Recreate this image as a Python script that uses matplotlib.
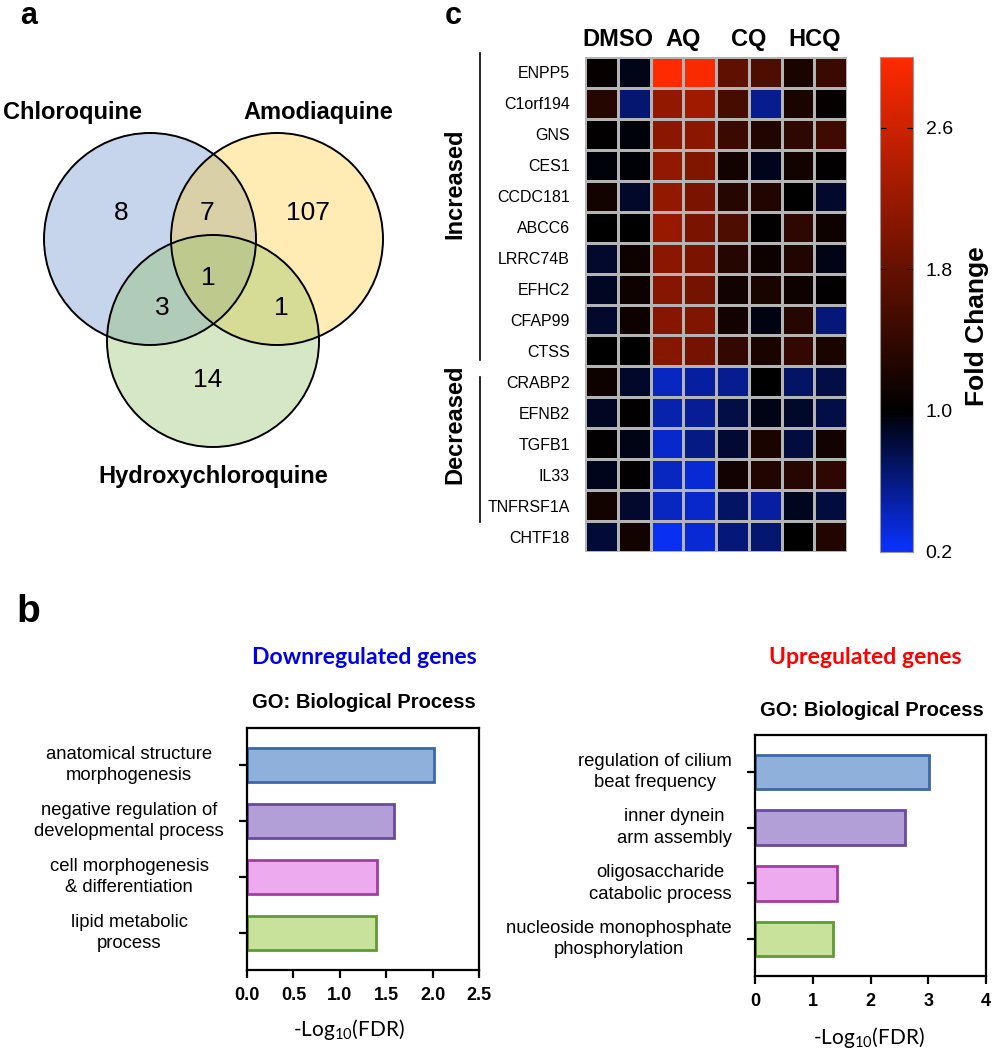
import numpy as np
import matplotlib
matplotlib.use("Agg")
import matplotlib.pyplot as plt
from matplotlib.patches import Circle
from matplotlib.colors import LinearSegmentedColormap, Normalize
from matplotlib.lines import Line2D

plt.rcParams['font.family'] = ['Liberation Sans', 'DejaVu Sans']
plt.rcParams['mathtext.default'] = 'regular'

# ---------------- data ----------------
venn_sets = ['Chloroquine', 'Amodiaquine', 'Hydroxychloroquine']
venn_regions = ['C', 'CA', 'A', 'CAH', 'CH', 'AH', 'H']
venn_counts = [8, 7, 107, 1, 3, 1, 14]

groups = ['DMSO', 'AQ', 'CQ', 'HCQ']
genes_up = ['ENPP5', 'C1orf194', 'GNS', 'CES1', 'CCDC181', 'ABCC6',
            'LRRC74B', 'EFHC2', 'CFAP99', 'CTSS']
genes_down = ['CRABP2', 'EFNB2', 'TGFB1', 'IL33', 'TNFRSF1A', 'CHTF18']
genes = genes_up + genes_down

fc_ENPP5    = [1.05, 0.93, 3.00, 2.95, 1.75, 1.60, 1.20, 1.45]
fc_C1orf194 = [1.30, 0.65, 2.15, 2.25, 1.55, 0.56, 1.20, 1.05]
fc_GNS      = [1.02, 0.97, 2.10, 2.10, 1.45, 1.25, 1.35, 1.50]
fc_CES1     = [0.97, 0.98, 2.15, 2.00, 1.15, 0.92, 1.15, 1.02]
fc_CCDC181  = [1.15, 0.87, 2.15, 1.95, 1.30, 1.25, 1.00, 0.86]
fc_ABCC6    = [1.00, 1.00, 2.20, 1.95, 1.60, 1.02, 1.35, 1.10]
fc_LRRC74B  = [0.86, 1.10, 2.10, 1.95, 1.30, 1.10, 1.25, 0.94]
fc_EFHC2    = [0.89, 1.10, 2.05, 1.90, 1.15, 1.20, 1.10, 1.02]
fc_CFAP99   = [0.86, 1.10, 2.05, 2.00, 1.15, 0.95, 1.30, 0.62]
fc_CTSS     = [1.00, 1.00, 2.05, 1.90, 1.40, 1.20, 1.40, 1.20]
fc_CRABP2   = [1.10, 0.87, 0.40, 0.50, 0.56, 1.00, 0.69, 0.78]
fc_EFNB2    = [0.89, 1.02, 0.47, 0.53, 0.78, 0.94, 0.87, 0.78]
fc_TGFB1    = [1.02, 0.94, 0.37, 0.59, 0.84, 1.20, 0.81, 1.15]
fc_IL33     = [0.92, 1.02, 0.40, 0.34, 1.15, 1.25, 1.30, 1.35]
fc_TNFRSF1A = [1.15, 0.86, 0.40, 0.37, 0.69, 0.50, 0.90, 0.81]
fc_CHTF18   = [0.83, 1.15, 0.25, 0.34, 0.62, 0.65, 1.00, 1.25]
fold_change = np.array([fc_ENPP5, fc_C1orf194, fc_GNS, fc_CES1, fc_CCDC181,
                        fc_ABCC6, fc_LRRC74B, fc_EFHC2, fc_CFAP99, fc_CTSS,
                        fc_CRABP2, fc_EFNB2, fc_TGFB1, fc_IL33, fc_TNFRSF1A,
                        fc_CHTF18])
cbar_ticks = [0.2, 1.0, 1.8, 2.6]

down_terms = ['anatomical structure\nmorphogenesis',
              'negative regulation of\ndevelopmental process',
              'cell morphogenesis\n& differentiation',
              'lipid metabolic\nprocess']
down_values = [2.01, 1.58, 1.40, 1.39]
down_ticks = [0.0, 0.5, 1.0, 1.5, 2.0, 2.5]

up_terms = ['regulation of cilium\nbeat frequency',
            'inner dynein\narm assembly',
            'oligosaccharide\ncatabolic process',
            'nucleoside monophosphate\nphosphorylation']
up_values = [3.01, 2.60, 1.42, 1.35]
up_ticks = [0, 1, 2, 3, 4]

bar_fill = ['#8fb0da', '#b39fd8', '#eeaaee', '#c8e19b']
bar_edge = ['#3b68a6', '#6a4a9e', '#a23ea2', '#5f9a35']

# ---------------- figure ----------------
W, H = 996, 1050
fig = plt.figure(figsize=(W / 100, H / 100), dpi=100)


def box(x0, y0, w, h):
    return [x0 / W, 1 - (y0 + h) / H, w / W, h / H]


def fx(x):
    return x / W


def fy(y):
    return 1 - y / H


# panel letters
fig.text(fx(29), fy(24), 'a', fontsize=22, fontweight='bold', ha='center', va='baseline')
fig.text(fx(453), fy(24), 'c', fontsize=22, fontweight='bold', ha='center', va='baseline')
fig.text(fx(28), fy(612), 'b', fontsize=28, fontweight='bold', ha='center', va='center')

# ---------------- Venn ----------------
axv = fig.add_axes(box(0, 0, 440, 560))
axv.set_xlim(0, 440)
axv.set_ylim(560, 0)
axv.axis('off')
circ_layout = [((150, 239), '#5c84c9'), ((277, 239), '#ffc929'), ((213, 341), '#8abd5c')]
for (c, col) in circ_layout:
    axv.add_patch(Circle(c, 106, facecolor=col, alpha=0.35, edgecolor='none'))
for (c, col) in circ_layout:
    axv.add_patch(Circle(c, 106, facecolor='none', edgecolor='black', lw=1.4))
region_pos = {'C': (121, 213), 'CA': (207, 213), 'A': (308, 213), 'CAH': (208, 278),
              'CH': (162, 308), 'AH': (281, 308), 'H': (208, 380)}
for reg, cnt in zip(venn_regions, venn_counts):
    px, py = region_pos[reg]
    axv.text(px, py, str(cnt), fontsize=19, ha='center', va='center')
set_pos = [(72, 113), (318, 113), (213, 476)]
for name, (px, py) in zip(venn_sets, set_pos):
    axv.text(px, py, name, fontsize=17, fontweight='bold', ha='center', va='center')

# ---------------- heatmap ----------------
cmap = LinearSegmentedColormap.from_list(
    'fc', [(0.0, '#0a32ff'), (0.8 / 2.8, '#000000'), (1.0, '#ff2a00')])
norm = Normalize(vmin=0.2, vmax=3.0)
axh = fig.add_axes(box(585, 57, 262, 495))
mesh = axh.pcolormesh(fold_change, cmap=cmap, norm=norm,
                      edgecolors='#b4b4b4', linewidth=0.8)
axh.set_xlim(0, fold_change.shape[1])
axh.set_ylim(fold_change.shape[0], 0)
axh.set_yticks(np.arange(len(genes)) + 0.5)
axh.set_yticklabels(genes, fontsize=11.5)
axh.set_xticks([])
axh.tick_params(axis='y', length=0, pad=11)
for s in axh.spines.values():
    s.set_visible(False)
for i, g in enumerate(groups):
    axh.text(2 * i + 1, -0.55, g, fontsize=17, fontweight='bold',
             ha='center', va='center')

# group brackets
fig.add_artist(Line2D([fx(480), fx(480)], [fy(53), fy(360)], color='black', lw=1.2))
fig.add_artist(Line2D([fx(480), fx(480)], [fy(377), fy(522)], color='black', lw=1.2))
fig.text(fx(455), fy(184), 'Increased', rotation=90, fontsize=17,
         fontweight='bold', ha='center', va='center')
fig.text(fx(455), fy(424), 'Decreased', rotation=90, fontsize=17,
         fontweight='bold', ha='center', va='center')

# colorbar
cax = fig.add_axes(box(880, 57, 33, 495))
cb = fig.colorbar(mesh, cax=cax, ticks=cbar_ticks)
cb.ax.set_yticklabels([f'{t:.1f}' for t in cbar_ticks], fontsize=14)
cb.ax.tick_params(direction='in', length=4, width=0.8, left=True, right=True, pad=9)
cb.outline.set_edgecolor('#999999')
cb.outline.set_linewidth(0.8)
fig.text(fx(977), fy(326), 'Fold Change', rotation=90, fontsize=19,
         fontweight='bold', ha='center', va='center')


# ---------------- bar charts ----------------
def go_bar(rect, terms, values, ticks, xmax, label_x, label_ha, xlab_pos):
    ax = fig.add_axes(rect)
    y = np.arange(len(terms))
    ax.barh(y, values, height=0.62, color=bar_fill, edgecolor=bar_edge,
            linewidth=2.0, zorder=2)
    ax.set_ylim(len(terms) - 0.5 + 0.16, -0.5 - 0.16)
    ax.set_xlim(0, xmax)
    ax.set_xticks(ticks)
    ax.set_xticklabels([f'{t:.1f}' if isinstance(t, float) else str(t) for t in ticks],
                       fontsize=13, fontweight='bold')
    ax.set_yticks(y)
    ax.set_yticklabels([])
    ax.tick_params(axis='both', direction='out', length=6, width=1.6)
    ax.tick_params(axis='x', pad=6)
    for s in ax.spines.values():
        s.set_linewidth(1.6)
    for yi, t in zip(y, terms):
        ax.text(label_x, yi, t, transform=ax.get_yaxis_transform(), fontsize=13.3,
                ha=label_ha, va='center', multialignment='center', linespacing=1.35)
    ax.text(xlab_pos[0], xlab_pos[1], '-Log$_{10}$(FDR)', transform=ax.transAxes,
            fontsize=15, family='Lato', ha='center', va='center')
    return ax


axl = go_bar(box(247, 728, 232, 242), down_terms, down_values, down_ticks, 2.5,
             (129 - 247) / 232, 'center', ((349 - 247) / 232, -(1029 - 970) / 242))
axr = go_bar(box(755, 735, 231, 241), up_terms, up_values, up_ticks, 4,
             (732 - 755) / 231, 'right', ((869 - 755) / 231, -(1037 - 976) / 241))

fig.text(fx(364), fy(657), 'Downregulated genes', fontsize=16.6, fontweight='bold',
         family='Lato', color='#0000ee', ha='center', va='center')
fig.text(fx(364), fy(703), 'GO: Biological Process', fontsize=14.5, fontweight='bold',
         ha='center', va='center')
fig.text(fx(865), fy(657), 'Upregulated genes', fontsize=16.6, fontweight='bold',
         family='Lato', color='#ff0000', ha='center', va='center')
fig.text(fx(872), fy(710), 'GO: Biological Process', fontsize=14.5, fontweight='bold',
         ha='center', va='center')

fig.savefig('out.png', dpi=100)
